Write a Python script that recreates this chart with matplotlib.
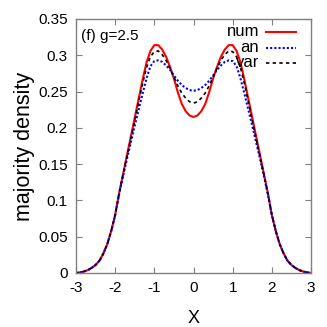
import matplotlib
matplotlib.use("Agg")
import matplotlib.pyplot as plt
from matplotlib import font_manager
from matplotlib.lines import Line2D

# half-profile values read at x = 0.0, 0.1, ..., 3.0 (curves are symmetric)
x_half = [0.0, 0.1, 0.2, 0.3, 0.4, 0.5, 0.6, 0.7, 0.8, 0.9, 1.0,
          1.1, 1.2, 1.3, 1.4, 1.5, 1.6, 1.7, 1.8, 1.9, 2.0,
          2.1, 2.2, 2.3, 2.4, 2.5, 2.6, 2.7, 2.8, 2.9, 3.0]
num_half = [0.215, 0.217, 0.223, 0.233, 0.249, 0.268, 0.284, 0.298, 0.308, 0.314, 0.314,
            0.306, 0.290, 0.266, 0.240, 0.214, 0.188, 0.162, 0.136, 0.110, 0.080,
            0.058, 0.040, 0.027, 0.017, 0.011, 0.007, 0.004, 0.002, 0.0008, 0.0]
an_half = [0.251, 0.252, 0.255, 0.259, 0.265, 0.272, 0.280, 0.286, 0.291, 0.293, 0.292,
           0.285, 0.268, 0.247, 0.225, 0.203, 0.180, 0.157, 0.133, 0.108, 0.080,
           0.058, 0.040, 0.027, 0.017, 0.011, 0.007, 0.004, 0.002, 0.0008, 0.0]
var_half = [0.234, 0.236, 0.241, 0.248, 0.258, 0.270, 0.282, 0.293, 0.301, 0.306, 0.305,
            0.298, 0.283, 0.261, 0.236, 0.210, 0.185, 0.160, 0.135, 0.109, 0.080,
            0.058, 0.040, 0.027, 0.017, 0.011, 0.007, 0.004, 0.002, 0.0008, 0.0]

x_ticks = [-3, -2, -1, 0, 1, 2, 3]
y_ticks = [0, 0.05, 0.1, 0.15, 0.2, 0.25, 0.3, 0.35]
y_tick_labels = ["0", "0.05", "0.1", "0.15", "0.2", "0.25", "0.3", "0.35"]
series_labels = ["num", "an", "var"]

def mirror(xh, yh):
    xs = [-v for v in xh[::-1]] + list(xh[1:])
    ys = list(yh[::-1]) + list(yh[1:])
    return xs, ys

names = [f.name for f in font_manager.fontManager.ttflist]
fam = "Liberation Sans Narrow" if "Liberation Sans Narrow" in names else "Liberation Sans"
narrow = fam == "Liberation Sans Narrow"
plt.rcParams['font.family'] = [fam, 'DejaVu Sans']
tick_fs = 13 if narrow else 11

fig = plt.figure(figsize=(3.27, 3.27), dpi=100)
ax = fig.add_axes([76/327, 1-273/327, 235/327, 254/327])

styles = [dict(color='#ff0000', lw=1.5, ls='-'),
          dict(color='#0000ff', lw=1.5, ls=(0, (1, 1))),
          dict(color='black', lw=1.2, ls=(0, (2, 2)))]
data = [num_half, an_half, var_half]
for yh, st in zip(data, styles):
    xs, ys = mirror(x_half, yh)
    ax.plot(xs, ys, **st)

ax.set_xlim(-3, 3)
ax.set_ylim(0, 0.35)
ax.set_xticks(x_ticks)
ax.set_xticklabels([str(t) for t in x_ticks])
ax.set_yticks(y_ticks)
ax.set_yticklabels(y_tick_labels)
ax.tick_params(direction='in', top=True, right=True, length=4, width=0.8,
               color='#808080', labelsize=tick_fs, pad=6)
for s in ax.spines.values():
    s.set_color('#808080')
    s.set_linewidth(1.0)

ax.set_xlabel('X', fontsize=13)
ax.xaxis.set_label_coords(0.5, -0.145)
ax.set_ylabel('majority density', fontsize=15.5, family='Liberation Sans')
ax.yaxis.set_label_coords(-0.175, 0.5)

ax.text(0.02, 0.935, '(f) g=2.5', transform=ax.transAxes, fontsize=11,
        ha='left', va='center')

# manual gnuplot-style key: right-aligned text, sample line to the right
key_y = [0.949, 0.886, 0.827]
for lab, st, yk in zip(series_labels, styles, key_y):
    ax.text(0.779, yk, lab, transform=ax.transAxes, fontsize=tick_fs + 1,
            ha='right', va='center')
    ax.add_line(Line2D([0.809, 0.936], [yk, yk], transform=ax.transAxes, **st))

fig.savefig('out.png', dpi=100)
